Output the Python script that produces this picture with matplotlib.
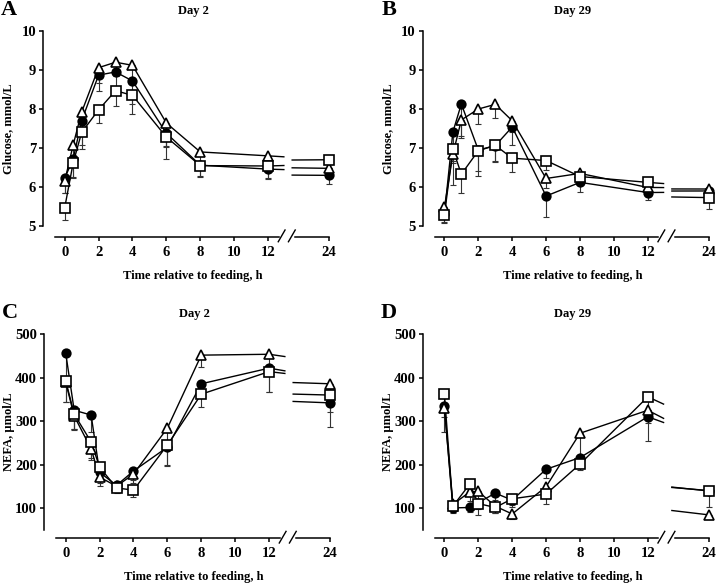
import numpy as np
import matplotlib.pyplot as plt

plt.rcParams['font.family'] = ['Liberation Serif', 'DejaVu Serif']
plt.rcParams['font.weight'] = 'bold'
plt.rcParams['font.size'] = 9

# sampling times (h relative to feeding)
hours_glu = [0, 0.5, 1, 2, 3, 4, 6, 8, 12, 24]
hours_nefa = [0, 0.5, 1.5, 2, 3, 4, 6, 8, 12, 24]

# Glucose, Day 2 (mmol/L) and lower SE
glu_d2_circle = [6.23, 6.72, 7.70, 8.87, 8.95, 8.72, 7.38, 6.56, 6.46, 6.30]
glu_d2_circle_se = [0.38, 0.45, 0.62, 0.42, 0.50, 0.60, 0.35, 0.28, 0.26, 0.22]
glu_d2_tri = [6.15, 7.08, 7.92, 9.06, 9.20, 9.12, 7.64, 6.90, 6.80, 6.48]
glu_d2_tri_se = [0.30, 0.40, 0.50, 0.40, 0.35, 0.45, 0.60, 0.30, 0.30, 0.20]
glu_d2_sq = [5.47, 6.62, 7.40, 7.98, 8.47, 8.35, 7.28, 6.55, 6.54, 6.70]
glu_d2_sq_se = [0.32, 0.38, 0.42, 0.34, 0.40, 0.48, 0.55, 0.28, 0.32, 0.20]

# Glucose, Day 29
glu_d29_circle = [5.30, 7.41, 8.13, 6.95, 7.06, 7.54, 5.77, 6.12, 5.86, 5.90]
glu_d29_circle_se = [0.20, 0.75, 0.82, 0.55, 0.40, 0.47, 0.55, 0.24, 0.20, 0.15]
glu_d29_tri = [5.48, 6.84, 7.72, 8.00, 8.12, 7.70, 6.22, 6.35, 5.99, 5.95]
glu_d29_tri_se = [0.15, 0.78, 0.45, 0.38, 0.35, 0.30, 0.25, 0.20, 0.15, 0.10]
glu_d29_sq = [5.28, 6.97, 6.33, 6.93, 7.07, 6.74, 6.68, 6.27, 6.12, 5.73]
glu_d29_sq_se = [0.20, 0.35, 0.47, 0.65, 0.42, 0.36, 0.25, 0.20, 0.15, 0.30]

# NEFA, Day 2 (umol/L)
nefa_d2_circle = [457, 325, 314, 182, 152, 185, 240, 386, 422, 342]
nefa_d2_circle_se = [55, 45, 40, 25, 15, 20, 40, 30, 55, 55]
nefa_d2_tri = [390, 312, 236, 171, 150, 178, 284, 452, 454, 386]
nefa_d2_tri_se = [45, 30, 25, 20, 12, 20, 50, 27, 30, 20]
nefa_d2_sq = [393, 316, 252, 194, 146, 141, 245, 362, 414, 360]
nefa_d2_sq_se = [48, 35, 37, 30, 12, 15, 48, 30, 48, 38]

# NEFA, Day 29
nefa_d29_circle = [334, 100, 101, 112, 134, 118, 189, 216, 310, 140]
nefa_d29_circle_se = [58, 12, 10, 15, 15, 15, 20, 20, 55, 10]
nefa_d29_tri = [330, 108, 137, 138, 104, 86, 149, 272, 325, 84]
nefa_d29_tri_se = [20, 15, 20, 20, 15, 12, 25, 55, 30, 10]
nefa_d29_sq = [362, 104, 155, 110, 101, 121, 132, 201, 356, 139]
nefa_d29_sq_se = [20, 12, 25, 27, 12, 15, 22, 14, 30, 37]

X24 = 15.6        # where the 24 h point sits after the axis break
LEFT_END = 12.93  # line stub ends just before the break
RIGHT_START = 13.42

W, H = 716, 585
fig = plt.figure(figsize=(W / 100, H / 100), dpi=100)


def fx(px):
    return px / W


def fy(py):
    return 1 - py / H


def draw_series(ax, hours, vals, se, marker, face, ms):
    hours = np.array(hours, dtype=float)
    vals = np.array(vals, dtype=float)
    se = np.array(se, dtype=float)
    xd = np.where(hours > 12, X24, hours)
    ax.errorbar(xd, vals, yerr=[se, np.zeros_like(se)], fmt='none',
                ecolor='0.2', elinewidth=0.8, capsize=2.5, capthick=0.8,
                zorder=2, clip_on=False)
    main = hours <= 12
    ax.plot(xd[main], vals[main], color='black', lw=1.0, zorder=3, clip_on=False)
    v12, v24 = vals[hours == 12][0], vals[-1]
    slope = (v24 - v12) / 12.0
    ax.plot([12, LEFT_END], [v12, v12 + slope * (LEFT_END - 12)],
            color='black', lw=1.0, zorder=3, clip_on=False)
    ax.plot([RIGHT_START, X24], [v24 - slope * 0.5, v24],
            color='black', lw=1.0, zorder=3, clip_on=False)
    ax.plot(xd, vals, linestyle='none', marker=marker, ms=ms, mfc=face,
            mec='black', mew=1.2, zorder=4, clip_on=False)


def setup_axes(ax, ylim, ybounds, yticks):
    ax.set_xlim(-1.28, 15.9)
    ax.set_ylim(*ylim)
    for s in ['top', 'right']:
        ax.spines[s].set_visible(False)
    ax.spines['left'].set_bounds(*ybounds)
    ax.spines['bottom'].set_bounds(-0.55, 12.62)
    for s in ['left', 'bottom']:
        ax.spines[s].set_linewidth(1.1)
    ax.set_yticks(yticks)
    ax.set_xticks([0, 2, 4, 6, 8, 10, 12, X24])
    ax.set_xticklabels(['0', '2', '4', '6', '8', '10', '12', '24'])
    ax.tick_params(axis='y', direction='out', length=3, width=1.1, pad=2, labelsize=10.5)
    ax.tick_params(axis='x', direction='out', length=3, width=1.1, pad=3.5, labelsize=10.5)
    trans = ax.get_xaxis_transform()
    ax.plot([13.6, X24], [0, 0], color='black', lw=1.1, transform=trans, clip_on=False)
    for x0 in [12.6, 13.2]:
        ax.plot([x0, x0 + 0.4], [-0.023, 0.034], color='black', lw=1.0,
                transform=trans, clip_on=False)


panels = [
    # (left px, top px, bottom px, ylim, ybounds, yticks, hours, series, ylabel, letter, title)
    (43, 31, 237, (4.72, 10.0), (5, 10), [5, 6, 7, 8, 9, 10], hours_glu,
     [(glu_d2_circle, glu_d2_circle_se), (glu_d2_tri, glu_d2_tri_se), (glu_d2_sq, glu_d2_sq_se)],
     'Glucose, mmol/L', 'A', 'Day 2'),
    (422.7, 31, 237, (4.72, 10.0), (5, 10), [5, 6, 7, 8, 9, 10], hours_glu,
     [(glu_d29_circle, glu_d29_circle_se), (glu_d29_tri, glu_d29_tri_se), (glu_d29_sq, glu_d29_sq_se)],
     'Glucose, mmol/L', 'B', 'Day 29'),
    (44, 334.3, 538.3, (30, 500), (50, 500), [100, 200, 300, 400, 500], hours_nefa,
     [(nefa_d2_circle, nefa_d2_circle_se), (nefa_d2_tri, nefa_d2_tri_se), (nefa_d2_sq, nefa_d2_sq_se)],
     'NEFA, µmol/L', 'C', 'Day 2'),
    (422.7, 334.3, 538.3, (30, 500), (50, 500), [100, 200, 300, 400, 500], hours_nefa,
     [(nefa_d29_circle, nefa_d29_circle_se), (nefa_d29_tri, nefa_d29_tri_se), (nefa_d29_sq, nefa_d29_sq_se)],
     'NEFA, µmol/L', 'D', 'Day 29'),
]

styles = [('o', 'black', 6.2), ('^', 'white', 7.5), ('s', 'white', 6.8)]

for left, top, bottom, ylim, yb, yt, hrs, series, ylab, letter, title in panels:
    width = (15.9 + 1.28) * 16.95
    ax = fig.add_axes([fx(left), fy(bottom), width / W, (bottom - top) / H])
    setup_axes(ax, ylim, yb, yt)
    for (vals, se), (mk, face, ms) in zip(series, styles):
        draw_series(ax, hrs, vals, se, mk, face, ms)
    cx = left + 150
    fig.text(fx(cx), fy(top - 20), title, ha='center', va='center', fontsize=9, fontweight='bold')
    fig.text(fx(cx), fy(bottom + 39), 'Time relative to feeding, h', ha='center', va='center',
             fontsize=9, fontweight='bold')
    fig.text(fx(left - 35), fy((top + bottom - 10) / 2), ylab, rotation=90, ha='center', va='center',
             fontsize=9, fontweight='bold')
    fig.text(fx(left - 34), fy(top - 21), letter, ha='center', va='center', fontsize=16,
             fontweight='bold')

plt.savefig('out.png', dpi=100)
